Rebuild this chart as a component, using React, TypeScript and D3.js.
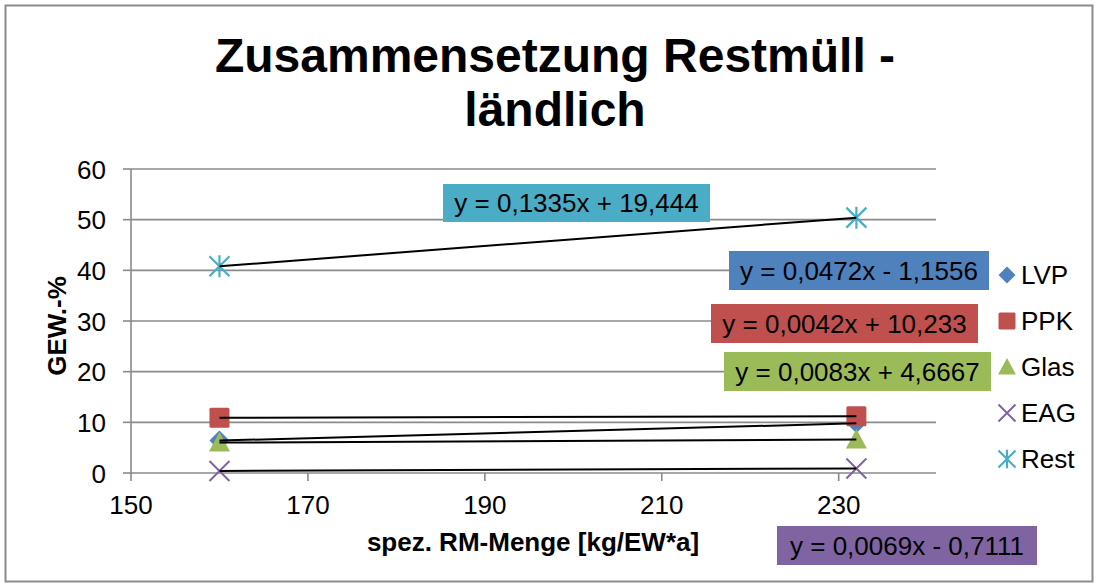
import React from "react";
import * as d3 from "d3";

const seriesNames = ["LVP", "PPK", "Glas", "EAG", "Rest"];
const seriesColors = ["#4F81BD", "#C0504D", "#9BBB59", "#8064A2", "#4BACC6"];
const xValues = [160, 232];
const lvp = [6.4, 9.8];
const ppk = [10.9, 11.2];
const glas = [6.0, 6.6];
const eag = [0.4, 0.9];
const rest = [40.8, 50.4];
const seriesValues = [lvp, ppk, glas, eag, rest];
const equations = [
  "y = 0,0472x - 1,1556",
  "y = 0,0042x + 10,233",
  "y = 0,0083x + 4,6667",
  "y = 0,0069x - 0,7111",
  "y = 0,1335x + 19,444",
];
const xTicks = [150, 170, 190, 210, 230];
const yTicks = [0, 10, 20, 30, 40, 50, 60];

// layout
const W = 1099, H = 588;
const plotL = 131, plotR = 936, plotT = 169, plotB = 473;
const FONT = "'Liberation Sans', Arial, sans-serif";
const FS = 26;
// equation label boxes [x0, y0, x1, y1]
const labelBoxes = [
  [729, 251, 989, 290],
  [711, 304, 978, 343],
  [724, 352, 991, 391],
  [777, 526, 1037, 565],
  [443, 184, 710, 222],
];

function Marker({ i, x, y, s = 1 }: { i: number; x: number; y: number; s?: number }) {
  const c = seriesColors[i];
  if (i === 0) {
    const r = 10 * s;
    return <path d={`M${x},${y - r}L${x + r},${y}L${x},${y + r}L${x - r},${y}Z`} fill={c} />;
  }
  if (i === 1) {
    const h = 10 * s;
    return <rect x={x - h} y={y - h} width={2 * h} height={2 * h} rx={1.5} fill={c} />;
  }
  if (i === 2) {
    const h = 10.5 * s;
    return <path d={`M${x},${y - h}L${x + h},${y + h * 0.85}L${x - h},${y + h * 0.85}Z`} fill={c} />;
  }
  if (i === 3) {
    const h = 10 * s;
    return (
      <path d={`M${x - h},${y - h}L${x + h},${y + h}M${x - h},${y + h}L${x + h},${y - h}`} stroke={c} strokeWidth={2} fill="none" />
    );
  }
  const h = 10 * s;
  return (
    <path
      d={`M${x - h},${y - h}L${x + h},${y + h}M${x - h},${y + h}L${x + h},${y - h}M${x},${y - h * 1.1}L${x},${y + h * 1.1}`}
      stroke={c}
      strokeWidth={2.2}
      fill="none"
    />
  );
}

export default function App() {
  const x = d3.scaleLinear().domain([150, 241]).range([plotL, plotR]);
  const y = d3.scaleLinear().domain([0, 60]).range([plotB, plotT]);
  const line = d3
    .line<[number, number]>()
    .x((d) => x(d[0]))
    .y((d) => y(d[1]));
  const grid = "#8a8a8a";
  const legendX = 1007;
  const legendY0 = 275;
  const legendDy = 46;

  return (
    <svg width={W} height={H} style={{ position: "absolute", left: 0, top: 0, background: "#fff" }} fontFamily={FONT}>
      <rect x={0} y={0} width={W} height={H} fill="#fff" />
      <rect x={5.5} y={5.5} width={1087} height={576} fill="none" stroke="#8c8c8c" strokeWidth={2} />

      <text x={555} y={72} textAnchor="middle" fontSize={48} fontWeight="bold" fill="#000">
        Zusammensetzung Restmüll -
      </text>
      <text x={555} y={126} textAnchor="middle" fontSize={48} fontWeight="bold" fill="#000">
        ländlich
      </text>

      {yTicks.map((t) => (
        <g key={"y" + t}>
          {t > 0 && <line x1={plotL} x2={plotR} y1={y(t)} y2={y(t)} stroke={grid} strokeWidth={1.6} />}
          <line x1={plotL - 8} x2={plotL} y1={y(t)} y2={y(t)} stroke={grid} strokeWidth={1.6} />
          <text x={106} y={y(t) + 9.5} textAnchor="end" fontSize={FS} fill="#000">
            {t}
          </text>
        </g>
      ))}
      <line x1={plotL} x2={plotL} y1={plotT} y2={plotB} stroke={grid} strokeWidth={1.6} />
      <line x1={plotL} x2={plotR} y1={plotB} y2={plotB} stroke={grid} strokeWidth={1.6} />
      {xTicks.map((t) => (
        <g key={"x" + t}>
          <line x1={x(t)} x2={x(t)} y1={plotB} y2={plotB + 8} stroke={grid} strokeWidth={1.6} />
          <text x={x(t)} y={514} textAnchor="middle" fontSize={FS} fill="#000">
            {t}
          </text>
        </g>
      ))}

      <text x={533} y={551} textAnchor="middle" fontSize={FS} fontWeight="bold" fill="#000">
        spez. RM-Menge [kg/EW*a]
      </text>
      <text
        transform={`translate(66,326) rotate(-90)`}
        textAnchor="middle"
        fontSize={FS}
        fontWeight="bold"
        fill="#000"
      >
        GEW.-%
      </text>

      {seriesValues.map((vals, i) => (
        <g key={"s" + i}>
          {vals.map((v, j) => (
            <Marker key={j} i={i} x={x(xValues[j])} y={y(v)} />
          ))}
        </g>
      ))}
      {seriesValues.map((vals, i) => (
        <path
          key={"t" + i}
          d={line(xValues.map((xv, j) => [xv, vals[j]] as [number, number])) || ""}
          stroke="#000"
          strokeWidth={2}
          fill="none"
        />
      ))}

      {labelBoxes.map((b, i) => (
        <g key={"l" + i}>
          <rect x={b[0]} y={b[1]} width={b[2] - b[0]} height={b[3] - b[1]} fill={seriesColors[i]} />
          <text x={(b[0] + b[2]) / 2} y={(b[1] + b[3]) / 2 + 9.3} textAnchor="middle" fontSize={FS} fill="#000">
            {equations[i]}
          </text>
        </g>
      ))}

      {seriesNames.map((n, i) => (
        <g key={"lg" + i}>
          <Marker i={i} x={legendX} y={legendY0 + i * legendDy} s={0.85} />
          <text x={1021} y={legendY0 + i * legendDy + 9.3} fontSize={FS} fill="#000">
            {n}
          </text>
        </g>
      ))}
    </svg>
  );
}
